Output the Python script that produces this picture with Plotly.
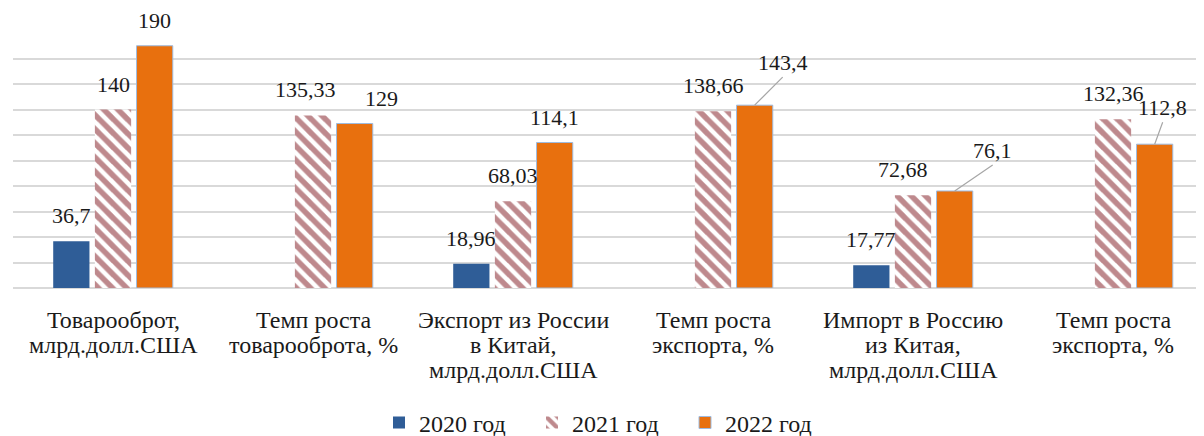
import plotly.graph_objects as go

category_lines = [
    ["Товарооброт,", "млрд.долл.США"],
    ["Темп роста", "товарооброта, %"],
    ["Экспорт из России", "в Китай,", "млрд.долл.США"],
    ["Темп роста", "экспорта, %"],
    ["Импорт в Россию", "из Китая,", "млрд.долл.США"],
    ["Темп роста", "экспорта, %"],
]
series_names = ["2020 год", "2021 год", "2022 год"]
v2020 = [36.7, None, 18.96, None, 17.77, None]
v2021 = [140, 135.33, 68.03, 138.66, 72.68, 132.36]
v2022 = [190, 129, 114.1, 143.4, 76.1, 112.8]

def fmt(v):
    return ("%g" % v).replace(".", ",")

FONT = "'Liberation Serif', 'Times New Roman', Tinos, serif"
TXT = "#1a1a1a"
BARGAP = 0.375
x = list(range(len(category_lines)))

fig = go.Figure()
fig.add_trace(go.Bar(x=x, y=v2020, name=series_names[0],
                     marker=dict(color="#2f5d97", line=dict(color="#2f5d97", width=0))))
fig.add_trace(go.Bar(x=x, y=v2021, name=series_names[1],
                     marker=dict(color="white", line=dict(width=0),
                                 pattern=dict(shape="\\", fgcolor="#7d141b", bgcolor="white",
                                              size=10, solidity=0.55))))
fig.add_trace(go.Bar(x=x, y=v2022, name=series_names[2],
                     marker=dict(color="#e8700e", line=dict(color="#9dbbe0", width=1))))

slot = (1 - BARGAP) / 3
offsets = [-slot, 0, slot]
tweaks = {(1, 1): (-8, 0), (1, 2): (27, 0), (4, 1): (-10, 0)}
leader = {(3, 2): (28, -28), (4, 2): (38, -26), (5, 2): (8, -22)}

annotations = []
for si, vals in enumerate([v2020, v2021, v2022]):
    for ci, v in enumerate(vals):
        if v is None:
            continue
        xa = ci + offsets[si]
        if (ci, si) in leader:
            ax, ay = leader[(ci, si)]
            annotations.append(dict(x=xa, y=v, xref="x", yref="y", text=fmt(v),
                                    showarrow=True, arrowhead=0, arrowwidth=1.2,
                                    arrowcolor="#a6a6a6", ax=ax, ay=ay, standoff=0,
                                    yanchor="bottom", xanchor="center",
                                    font=dict(family=FONT, size=22, color=TXT)))
        else:
            dx, dy = tweaks.get((ci, si), (0, 0))
            annotations.append(dict(x=xa, y=v, xref="x", yref="y", text=fmt(v),
                                    showarrow=False, yanchor="bottom", yshift=11 + dy,
                                    xshift=dx,
                                    font=dict(family=FONT, size=22, color=TXT)))

for ci, lines in enumerate(category_lines):
    for li, line in enumerate(lines):
        annotations.append(dict(x=ci, y=0, xref="x", yref="paper", text=line,
                                showarrow=False, xanchor="center", yanchor="middle",
                                yshift=-32 - 25 * li,
                                font=dict(family=FONT, size=24, color=TXT)))

fig.update_layout(
    width=1196, height=428,
    margin=dict(l=5, r=0, t=25, b=148, autoexpand=False),
    paper_bgcolor="white", plot_bgcolor="white",
    font=dict(family=FONT, size=22, color=TXT),
    barmode="group", bargap=BARGAP, bargroupgap=0.13,
    xaxis=dict(tickmode="array", tickvals=x, showticklabels=False, automargin=False,
               range=[-0.5, -0.5 + 1191 / 200], showgrid=False, zeroline=False,
               showline=False, ticks=""),
    yaxis=dict(range=[0, 200], dtick=20, showticklabels=False, gridcolor="#d9d9d9",
               automargin=False,
               gridwidth=1.5, zeroline=True, zerolinecolor="#d9d9d9", zerolinewidth=1.5),
    legend=dict(orientation="h", x=0.5, xanchor="center", y=-0.529, yanchor="middle",
                font=dict(family=FONT, size=24, color=TXT), itemwidth=30,
                entrywidth=108, entrywidthmode="pixels"),
    annotations=annotations,
)
fig.write_html("out.html")
